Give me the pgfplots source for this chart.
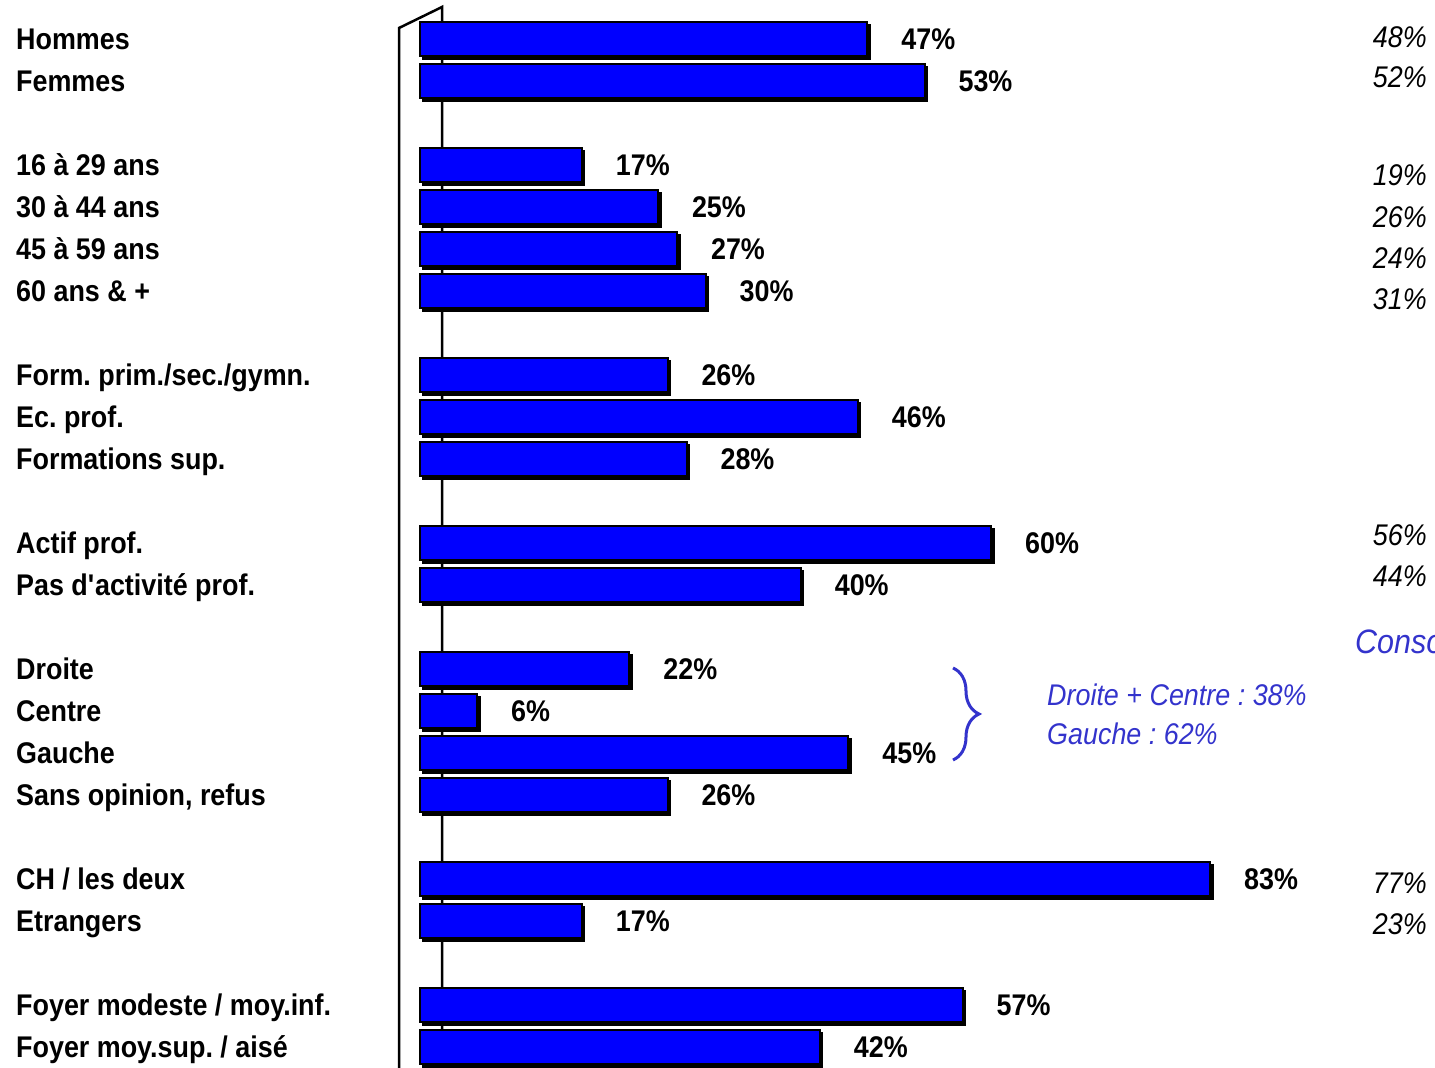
\documentclass[border=0pt]{standalone}
\usepackage{pgfplots}
\pgfplotsset{compat=1.18}
\usepackage{pgfplotstable}
\usepackage{fontspec}
\setmainfont[FakeStretch=0.9]{Liberation Sans}
\usetikzlibrary{decorations.pathreplacing}
\definecolor{barblue}{RGB}{0,0,255}
\definecolor{annblue}{RGB}{51,51,204}
\frenchspacing

\pgfplotstableread{
y x
0 47
1 53
3 17
4 25
5 27
6 30
8 26
9 46
10 28
12 60
13 40
15 22
16 6
17 45
18 26
20 83
21 17
23 57
24 42
}\bars

\newcommand{\lblfont}{\fontsize{30}{36}\selectfont\bfseries}
\newcommand{\itfont}{\fontsize{30}{36}\selectfont\itshape}

\begin{document}
\begin{tikzpicture}[x=1bp,y=1bp]
\useasboundingbox (0,0) rectangle (1435,1067);
% 3D wall
\draw[line width=2.5bp] (442,-5) -- (442,1060) -- (399,1039) -- (399,-5);
\draw[line width=2bp] (420,-5) -- (430,4);
\begin{axis}[
  at={(420bp,-22bp)}, anchor=south west, scale only axis,
  width=999.6bp, height=1092bp,
  xmin=0, xmax=105, ymin=-1, ymax=25, y dir=reverse,
  axis line style={draw=none}, tick style={draw=none},
  major tick length=0pt,
  xtick=\empty,
  ytick={0,1,3,4,5,6,8,9,10,12,13,15,16,17,18,20,21,23,24},
  yticklabels={Hommes, Femmes, 16 à 29 ans, 30 à 44 ans, 45 à 59 ans, 60 ans \& +,
    Form. prim./sec./gymn., Ec. prof., Formations sup.,
    Actif prof., Pas d\textquotesingle activité prof.,
    Droite, Centre, Gauche, {Sans opinion, refus},
    CH / les deux, Etrangers,
    Foyer modeste / moy.inf., Foyer moy.sup. / aisé},
  yticklabel style={anchor=west, inner sep=0pt, xshift=-404bp,
    font=\lblfont, text height=21bp, text depth=0pt},
  clip=false,
  bar width=34bp,
  /pgf/number format/assume math mode=true,
]
\addplot[xbar, bar shift=0pt, fill=black, draw=black, line width=2bp,
  xshift=2.5bp, yshift=-2.5bp] table[x=x,y=y]{\bars};
\addplot[xbar, bar shift=0pt, fill=barblue, draw=black, line width=2bp,
  point meta=x,
  nodes near coords={\pgfmathprintnumber{\pgfplotspointmeta}\%},
  nodes near coords style={anchor=west, inner sep=0pt, xshift=33bp,
    font=\lblfont, text height=21bp, text depth=0pt, black,
    /pgf/number format/assume math mode=true}]
  table[x=x,y=y]{\bars};
\end{axis}
% right-hand column (reference values)
\foreach \v/\py in {48/37, 52/77, 19/175, 26/217, 24/258, 31/299, 56/535, 44/576, 77/883, 23/924}{
  \node[anchor=east, inner sep=0pt, font=\itfont, text height=21bp, text depth=0pt]
    at (1427,{1067-\py}) {\v\%};
}
% annotation
\node[anchor=west, inner sep=0pt, font=\fontsize{34}{40}\selectfont\itshape, text=annblue,
  text height=24bp, text depth=0pt] at (1355,{1067-642}) {Consommateurs};
\draw[annblue, line width=3bp, decorate, decoration={brace, amplitude=26bp, aspect=0.5}]
  (953,{1067-668}) -- (953,{1067-760});
\node[anchor=west, inner sep=0pt, font=\itfont, text=annblue, text height=21bp, text depth=0pt]
  at (1047,{1067-695}) {Droite + Centre : 38\%};
\node[anchor=west, inner sep=0pt, font=\itfont, text=annblue, text height=21bp, text depth=0pt]
  at (1047,{1067-734}) {Gauche : 62\%};
\end{tikzpicture}
\end{document}
